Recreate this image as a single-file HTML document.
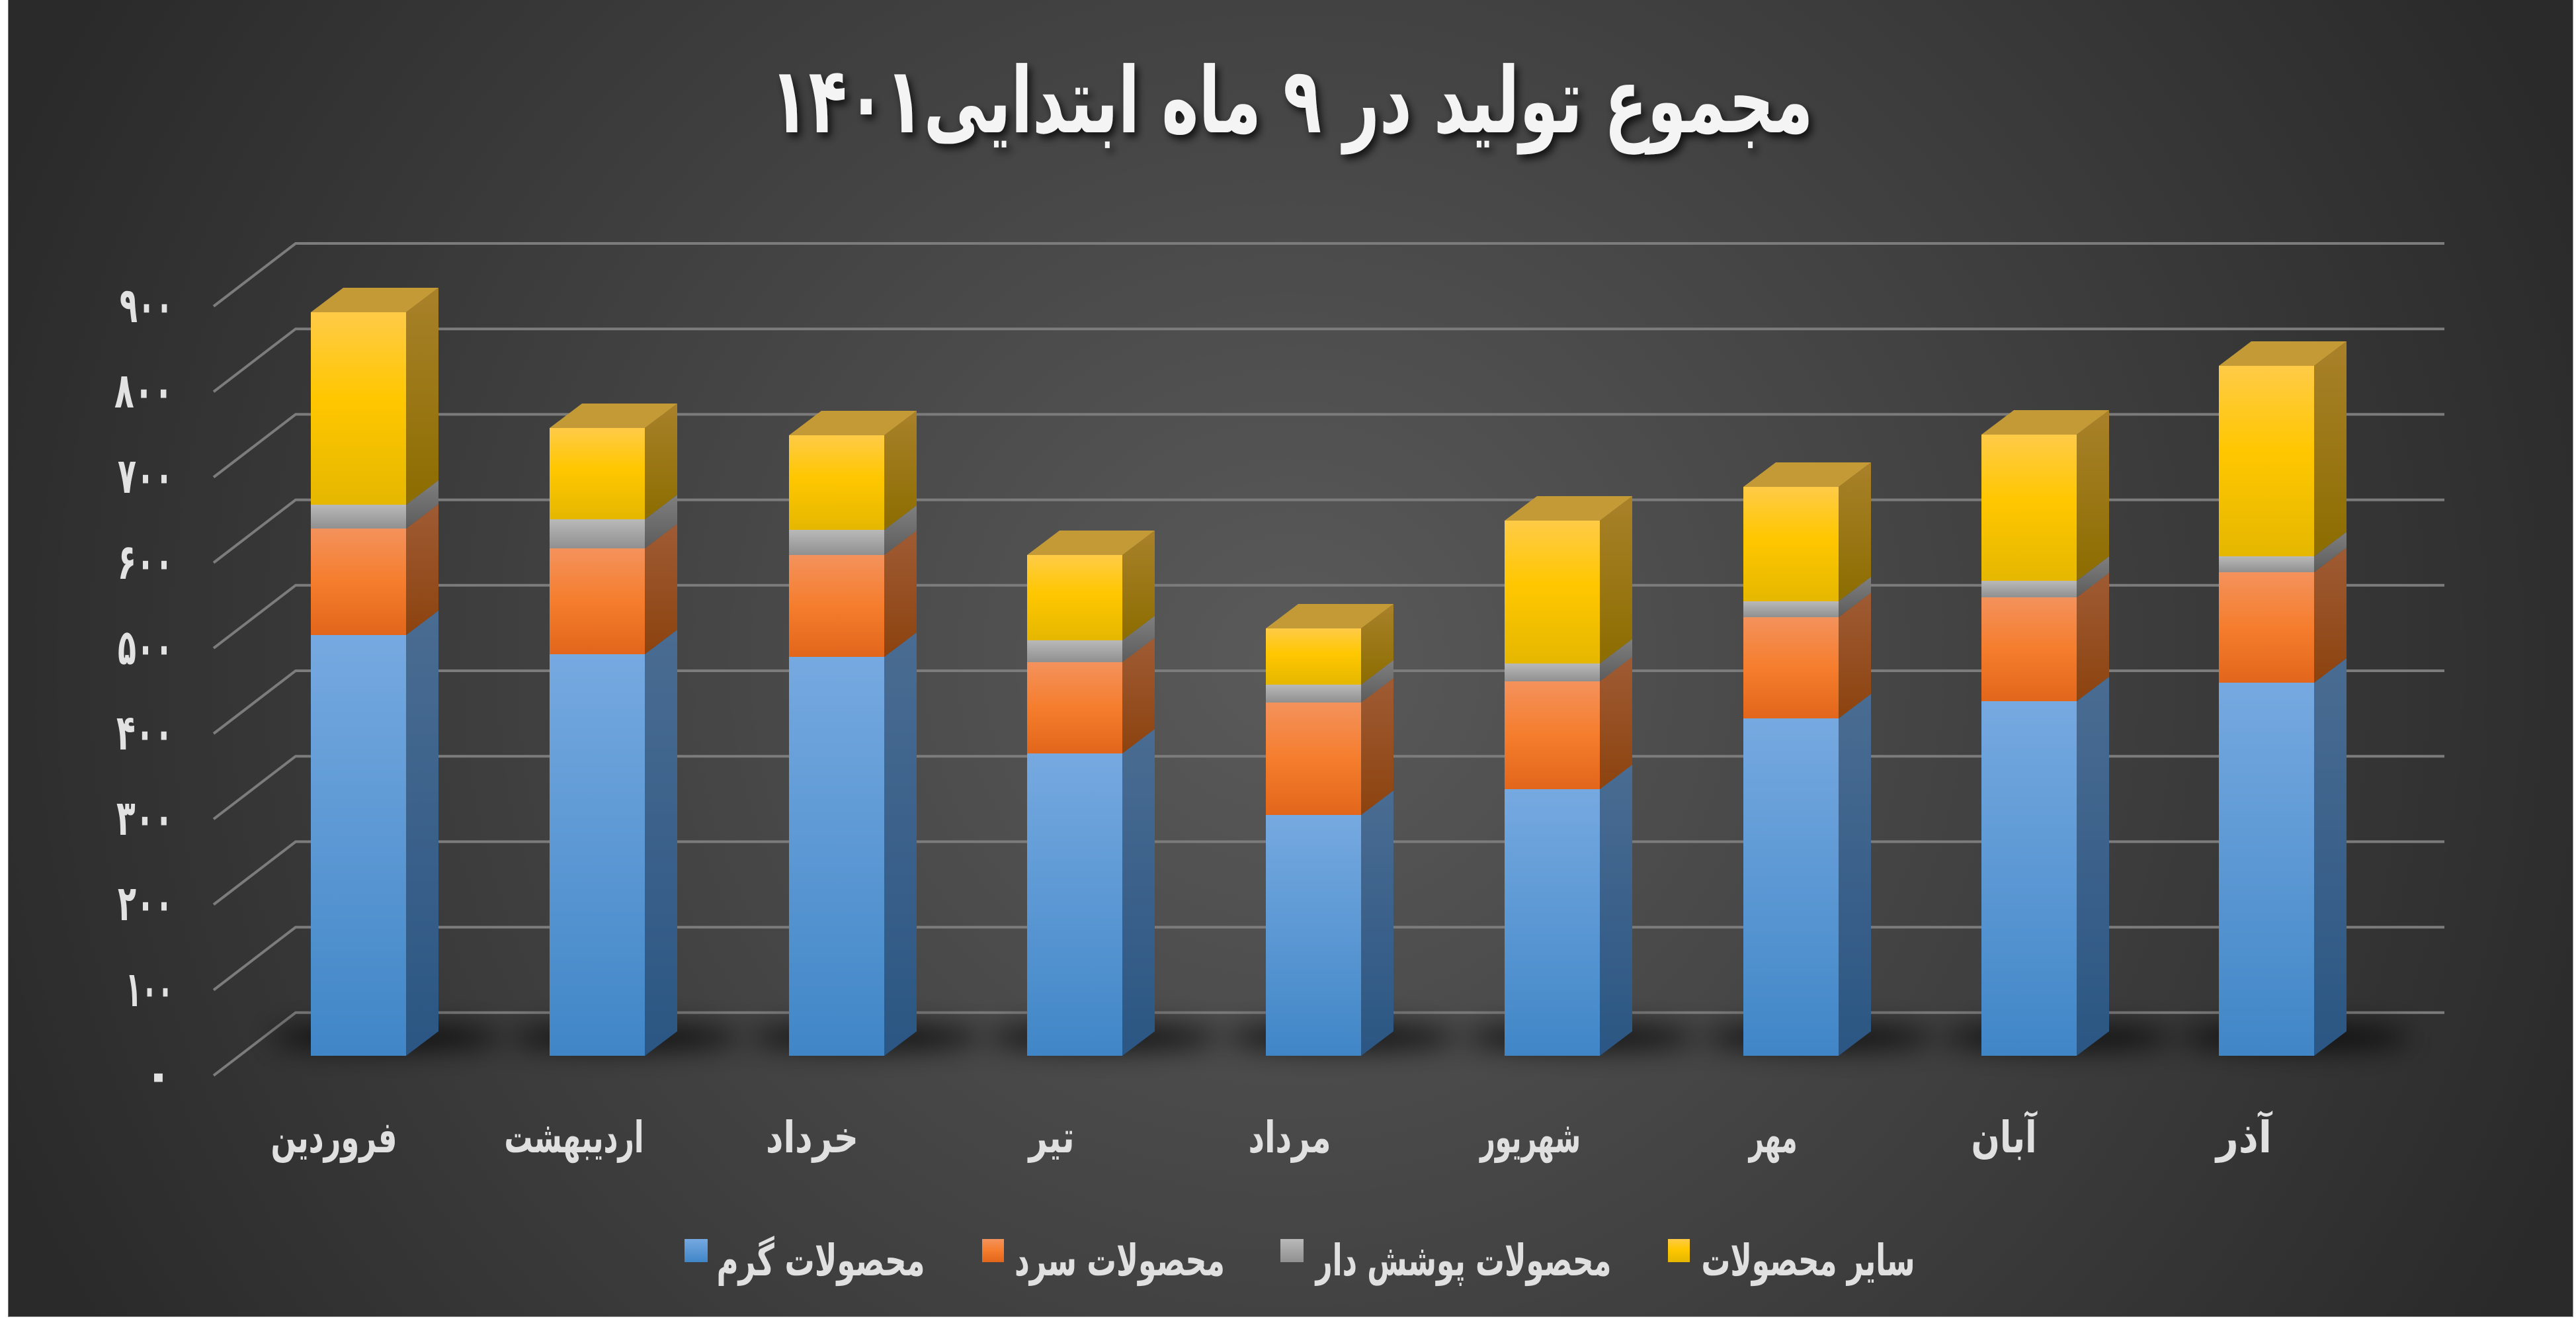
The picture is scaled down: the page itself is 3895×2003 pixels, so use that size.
<!DOCTYPE html>
<html>
<head>
<meta charset="utf-8">
<style>
html,body{margin:0;padding:0;background:#ffffff;}
body{width:3895px;height:2003px;position:relative;overflow:hidden;}
#chart{position:absolute;left:12px;top:0;width:3879px;height:1991px;
background:radial-gradient(2100px 2000px at 1938px 1000px,#5a5a5a 0%,#2a2a2a 100%);
box-shadow:inset 1px 0 0 #777, inset -1px 0 0 #999, inset 0 -1px 0 #999;}
svg{position:absolute;left:0;top:0;}
text{font-family:"DejaVu Sans","Liberation Sans",sans-serif;font-weight:bold;}
</style>
</head>
<body>
<div id="chart"></div>
<svg width="3895" height="2003" viewBox="0 0 3895 2003" xmlns="http://www.w3.org/2000/svg">
<defs>
  <filter id="tsh" x="-10%" y="-30%" width="120%" height="160%">
    <feDropShadow dx="5" dy="7" stdDeviation="6" flood-color="#000" flood-opacity="0.75"/>
  </filter>
  <filter id="blur" x="-50%" y="-300%" width="200%" height="700%">
    <feGaussianBlur stdDeviation="20"/>
  </filter>
  <linearGradient id="bF" x1="0" y1="0" x2="0" y2="1"><stop offset="0" stop-color="#76a9e0"/><stop offset="1" stop-color="#4086c7"/></linearGradient>
  <linearGradient id="bS" x1="0" y1="0" x2="0" y2="1"><stop offset="0" stop-color="#4a6c92"/><stop offset="1" stop-color="#2b5683"/></linearGradient>
  <linearGradient id="oF" x1="0" y1="0" x2="0" y2="1"><stop offset="0" stop-color="#f4925c"/><stop offset="0.5" stop-color="#f57d2d"/><stop offset="1" stop-color="#e2661b"/></linearGradient>
  <linearGradient id="oS" x1="0" y1="0" x2="0" y2="1"><stop offset="0" stop-color="#9f5b34"/><stop offset="1" stop-color="#8c430f"/></linearGradient>
  <linearGradient id="gF" x1="0" y1="0" x2="0" y2="1"><stop offset="0" stop-color="#b9b9b9"/><stop offset="1" stop-color="#909090"/></linearGradient>
  <linearGradient id="gS" x1="0" y1="0" x2="0" y2="1"><stop offset="0" stop-color="#7f7f7f"/><stop offset="1" stop-color="#5c5c5c"/></linearGradient>
  <linearGradient id="yF" x1="0" y1="0" x2="0" y2="1"><stop offset="0" stop-color="#ffcb47"/><stop offset="0.45" stop-color="#ffc700"/><stop offset="1" stop-color="#e5b700"/></linearGradient>
  <linearGradient id="yS" x1="0" y1="0" x2="0" y2="1"><stop offset="0" stop-color="#a9812a"/><stop offset="1" stop-color="#8c6d00"/></linearGradient>
</defs>

<!-- Title -->
<text x="1953" y="200" font-size="138" fill="#f4f4f4" text-anchor="middle" direction="rtl" textLength="1577" lengthAdjust="spacingAndGlyphs" filter="url(#tsh)">مجموع تولید در ۹ ماه ابتدایی۱۴۰۱</text>

<!-- Gridlines -->
<g fill="none" stroke="#7c7c7c" stroke-width="4">
  <path d="M323,463 L447,368 L3696,368"/>
  <path d="M323,592.2 L447,497.2 L3696,497.2"/>
  <path d="M323,721.4 L447,626.4 L3696,626.4"/>
  <path d="M323,850.6 L447,755.6 L3696,755.6"/>
  <path d="M323,979.8 L447,884.8 L3696,884.8"/>
  <path d="M323,1109 L447,1014 L3696,1014"/>
  <path d="M323,1238.2 L447,1143.2 L3696,1143.2"/>
  <path d="M323,1367.4 L447,1272.4 L3696,1272.4"/>
  <path d="M323,1496.6 L447,1401.6 L3696,1401.6"/>
  <path d="M323,1625.8 L447,1530.8 L3696,1530.8"/>
</g>

<!-- Y labels -->
<g font-size="74" fill="#e2e2e2" text-anchor="end" direction="ltr">
  <text x="262" y="487" textLength="81" lengthAdjust="spacingAndGlyphs">۹۰۰</text>
  <text x="262" y="616" textLength="89" lengthAdjust="spacingAndGlyphs">۸۰۰</text>
  <text x="262" y="745" textLength="84" lengthAdjust="spacingAndGlyphs">۷۰۰</text>
  <text x="262" y="875" textLength="84" lengthAdjust="spacingAndGlyphs">۶۰۰</text>
  <text x="262" y="1004" textLength="84" lengthAdjust="spacingAndGlyphs">۵۰۰</text>
  <text x="262" y="1133" textLength="86" lengthAdjust="spacingAndGlyphs">۴۰۰</text>
  <text x="262" y="1262" textLength="86" lengthAdjust="spacingAndGlyphs">۳۰۰</text>
  <text x="262" y="1391" textLength="84" lengthAdjust="spacingAndGlyphs">۲۰۰</text>
  <text x="262" y="1521" textLength="72" lengthAdjust="spacingAndGlyphs">۱۰۰</text>
  <text x="262" y="1650">۰</text>
</g>

<!-- Shadows -->
<g fill="#050505" opacity="0.8" filter="url(#blur)">
  <ellipse cx="585" cy="1568" rx="175" ry="18"/>
  <ellipse cx="946" cy="1568" rx="175" ry="18"/>
  <ellipse cx="1308" cy="1568" rx="175" ry="18"/>
  <ellipse cx="1668" cy="1568" rx="175" ry="18"/>
  <ellipse cx="2029" cy="1568" rx="175" ry="18"/>
  <ellipse cx="2390" cy="1568" rx="175" ry="18"/>
  <ellipse cx="2751" cy="1568" rx="175" ry="18"/>
  <ellipse cx="3111" cy="1568" rx="175" ry="18"/>
  <ellipse cx="3470" cy="1568" rx="175" ry="18"/>
</g>

<!-- Bars -->
<g id="bars"></g>

<!-- X labels -->
<g font-size="66" fill="#e0e0e0" text-anchor="middle" direction="rtl">
  <text x="505" y="1742" textLength="191" lengthAdjust="spacingAndGlyphs">فروردین</text>
  <text x="868" y="1742" textLength="211" lengthAdjust="spacingAndGlyphs">اردیبهشت</text>
  <text x="1228" y="1742" textLength="140" lengthAdjust="spacingAndGlyphs">خرداد</text>
  <text x="1590" y="1742" textLength="69" lengthAdjust="spacingAndGlyphs">تیر</text>
  <text x="1950" y="1742" textLength="125" lengthAdjust="spacingAndGlyphs">مرداد</text>
  <text x="2314" y="1742" textLength="152" lengthAdjust="spacingAndGlyphs">شهریور</text>
  <text x="2681" y="1742" textLength="73" lengthAdjust="spacingAndGlyphs">مهر</text>
  <text x="3030" y="1742" textLength="99" lengthAdjust="spacingAndGlyphs">آبان</text>
  <text x="3393" y="1742" textLength="84" lengthAdjust="spacingAndGlyphs">آذر</text>
</g>

<!-- Legend -->
<rect x="1035" y="1873" width="35" height="35" fill="url(#bF)"/>
<rect x="1485" y="1873" width="33" height="35" fill="url(#oF)"/>
<rect x="1936" y="1873" width="35" height="35" fill="url(#gF)"/>
<rect x="2522" y="1873" width="33" height="35" fill="url(#yF)"/>
<g font-size="66" fill="#e0e0e0" text-anchor="middle" direction="rtl">
  <text x="1241" y="1928" textLength="315" lengthAdjust="spacingAndGlyphs">محصولات گرم</text>
  <text x="1693" y="1928" textLength="318" lengthAdjust="spacingAndGlyphs">محصولات سرد</text>
  <text x="2213" y="1928" textLength="447" lengthAdjust="spacingAndGlyphs">محصولات پوشش دار</text>
  <text x="2734" y="1928" textLength="323" lengthAdjust="spacingAndGlyphs">سایر محصولات</text>
</g>

<script>
(function(){
  var bars=[[470,960,799,763,472],[831,989,829,785,647],[1193,993,839,801,658],[1553,1139,1001,968,839],[1914,1232,1062,1035,950],[2275,1193,1030,1003,787],[2636,1086,933,909,736],[2996,1060,903,878,657],[3355,1032,865,841,553]];
  var W=144,DX=49,DY=37,B=1596;
  var ns="http://www.w3.org/2000/svg";
  var g=document.getElementById("bars");
  function el(n,a){var e=document.createElementNS(ns,n);for(var k in a)e.setAttribute(k,a[k]);g.appendChild(e);}
  bars.forEach(function(b){
    var x=b[0];
    var segs=[[B,b[1],"b"],[b[1],b[2],"o"],[b[2],b[3],"g"],[b[3],b[4],"y"]];
    segs.forEach(function(s){
      var yb=s[0],yt=s[1],c=s[2];
      el("rect",{x:x,y:yt,width:W,height:yb-yt,fill:"url(#"+c+"F)"});
      el("polygon",{points:(x+W)+","+yb+" "+(x+W+DX)+","+(yb-DY)+" "+(x+W+DX)+","+(yt-DY)+" "+(x+W)+","+yt,fill:"url(#"+c+"S)"});
    });
    var t=b[4];
    el("polygon",{points:x+","+t+" "+(x+DX)+","+(t-DY)+" "+(x+W+DX)+","+(t-DY)+" "+(x+W)+","+t,fill:"#c39a35"});
  });
})();
</script>
</svg>
</body>
</html>
